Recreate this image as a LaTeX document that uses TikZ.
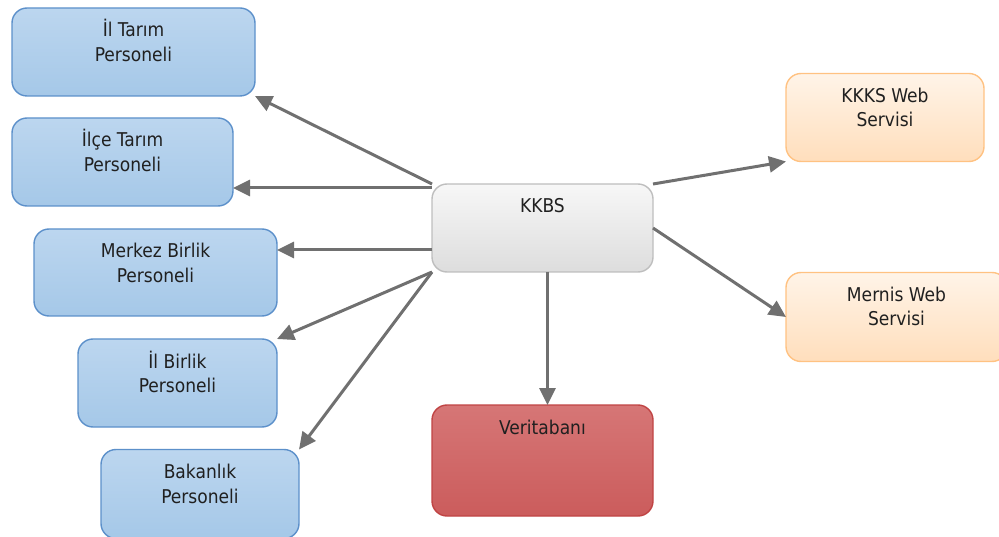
\documentclass[tikz,border=0pt]{standalone}
\usepackage{fontspec}
\IfFontExistsTF{DejaVu Sans Condensed}
  {\setmainfont{DejaVu Sans Condensed}}
  {\setmainfont{DejaVu Sans}[FakeStretch=0.9]}
\usetikzlibrary{arrows.meta}

\definecolor{bluetop}{RGB}{188,214,239}
\definecolor{bluebot}{RGB}{165,200,232}
\definecolor{blueline}{RGB}{92,144,202}
\definecolor{graytop}{RGB}{247,247,247}
\definecolor{graybot}{RGB}{221,221,221}
\definecolor{grayline}{RGB}{190,190,190}
\definecolor{orgtop}{RGB}{255,244,232}
\definecolor{orgbot}{RGB}{255,222,188}
\definecolor{orgline}{RGB}{255,194,130}
\definecolor{redtop}{RGB}{214,118,118}
\definecolor{redbot}{RGB}{203,92,92}
\definecolor{redline}{RGB}{192,68,68}
\definecolor{arrowgray}{RGB}{112,112,112}
\definecolor{textdark}{RGB}{32,32,32}

% box text: first baseline 29pt below the top edge, lines centred
\newcommand{\bx}[3]{\parbox[c][#2pt][t]{#1pt}{\centering\fontsize{19}{24.5}\selectfont\rule{0pt}{29pt}#3\par}}

\tikzset{
  boxbase/.style={rounded corners=15pt, inner sep=0pt, outer sep=0pt,
    line width=1.4pt, text=textdark},
  bluebox/.style={boxbase, draw=blueline, top color=bluetop, bottom color=bluebot},
  graybox/.style={boxbase, draw=grayline, top color=graytop, bottom color=graybot},
  orangebox/.style={boxbase, draw=orgline, top color=orgtop, bottom color=orgbot},
  redbox/.style={boxbase, draw=redline, top color=redtop, bottom color=redbot},
  arr/.style={draw=arrowgray, line width=3pt,
    -{Triangle[length=17pt,width=16pt,fill=arrowgray]}}
}

\begin{document}
\begin{tikzpicture}[x=1pt,y=-1pt]
\useasboundingbox (0,0) rectangle (999,537);

\node[bluebox] (iltarim)  at (133.5,52)   {\bx{243}{88}{İl Tarım\\Personeli}};
\node[bluebox] (ilcetarim) at (122.5,162) {\bx{221}{88}{İlçe Tarım\\Personeli}};
\node[bluebox] (merkez)   at (155.5,272.5){\bx{243}{87}{Merkez Birlik\\Personeli}};
\node[bluebox] (ilbirlik) at (177.5,383)  {\bx{199}{88}{İl Birlik\\Personeli}};
\node[bluebox] (bakanlik) at (200,494)    {\bx{198}{89}{Bakanlık\\Personeli}};

\node[graybox] (kkbs)  at (542.5,228)   {\bx{221}{88}{KKBS}};
\node[redbox]  (veri)  at (542.5,460.5) {\bx{221}{111}{Veritabanı}};

\node[orangebox] (kkks)   at (885,117.5) {\bx{198}{88}{KKKS Web\\Servisi}};
\node[orangebox] (mernis) at (896.5,317) {\bx{221}{89}{Mernis Web\\Servisi}};

% connectors from the central system
\draw[arr] (kkbs.north west) -- (iltarim.south east);
\draw[arr] ([yshift=-4pt]kkbs.north west) -- ([yshift=-4pt]kkbs.north west -| ilcetarim.east);
\draw[arr] ([yshift=22pt]kkbs.south west) -- ([yshift=22pt]kkbs.south west -| merkez.east);
\draw[arr] (kkbs.south west) -- (ilbirlik.north east);
\draw[arr] (kkbs.south west) -- (bakanlik.north east);
\draw[arr] ([xshift=5pt]kkbs.south) -- ([xshift=5pt]kkbs.south |- veri.north);
\draw[arr] (kkbs.north east) -- (kkks.south west);
\draw[arr] (kkbs.east) -- (mernis.west);
\end{tikzpicture}
\end{document}
